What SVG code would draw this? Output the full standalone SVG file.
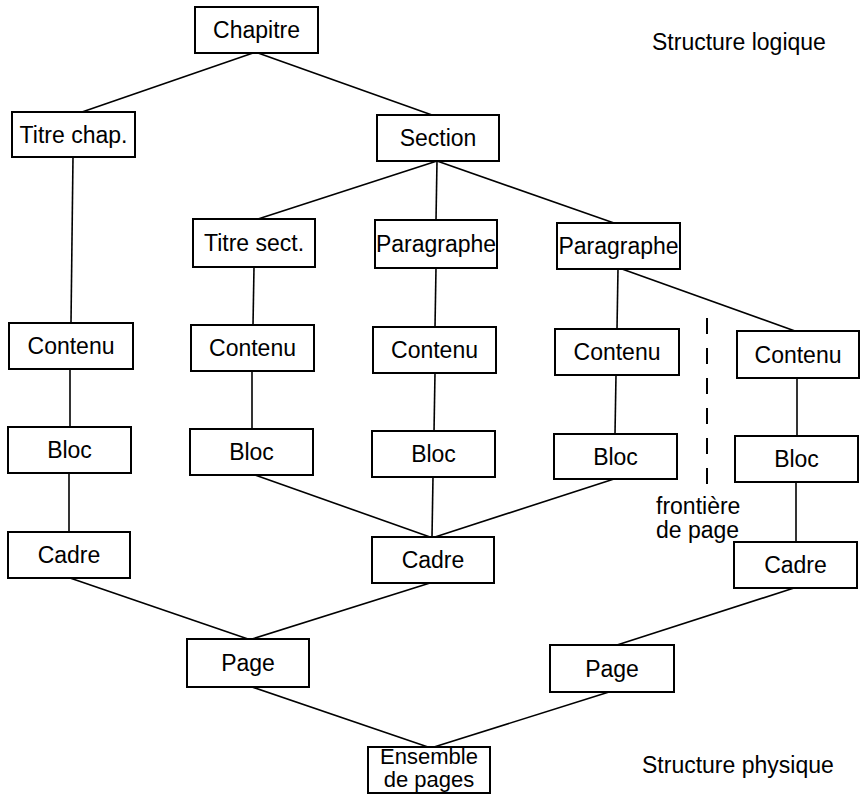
<svg xmlns="http://www.w3.org/2000/svg" width="864" height="798" viewBox="0 0 864 798">
<style>
.box{fill:#fff;stroke:#000;stroke-width:2}
.lbl{font-family:"Liberation Sans",Arial,Helvetica,sans-serif;font-size:23px;fill:#000;text-anchor:middle}
.lbs{font-family:"Liberation Sans",Arial,Helvetica,sans-serif;font-size:22px;fill:#000;text-anchor:middle}
.txt{font-family:"Liberation Sans",Arial,Helvetica,sans-serif;font-size:23px;fill:#000}
.ln{stroke:#000;stroke-width:1.6;fill:none}
.dash{stroke:#000;stroke-width:2;stroke-dasharray:16 14;fill:none}
</style>
<rect width="864" height="798" fill="#fff"/>
<g id="connectors">
<line class="ln" x1="253" y1="53" x2="82" y2="112"/>
<line class="ln" x1="258" y1="53" x2="432" y2="115"/>
<line class="ln" x1="73" y1="157" x2="71" y2="323"/>
<line class="ln" x1="437" y1="161" x2="258" y2="219"/>
<line class="ln" x1="437" y1="161" x2="436" y2="220"/>
<line class="ln" x1="437" y1="161" x2="614" y2="223"/>
<line class="ln" x1="254" y1="267" x2="253" y2="325"/>
<line class="ln" x1="436" y1="268" x2="435" y2="327"/>
<line class="ln" x1="618" y1="269" x2="617" y2="329"/>
<line class="ln" x1="622" y1="269" x2="795" y2="331"/>
<line class="ln" x1="70" y1="369" x2="70" y2="427"/>
<line class="ln" x1="252" y1="371" x2="252" y2="429"/>
<line class="ln" x1="435" y1="373" x2="434" y2="432"/>
<line class="ln" x1="616" y1="375" x2="615" y2="434"/>
<line class="ln" x1="797" y1="378" x2="797" y2="436"/>
<line class="ln" x1="69" y1="473" x2="69" y2="532"/>
<line class="ln" x1="255" y1="475" x2="430" y2="537"/>
<line class="ln" x1="433" y1="477" x2="432" y2="537"/>
<line class="ln" x1="614" y1="479" x2="435" y2="537"/>
<line class="ln" x1="796" y1="482" x2="796" y2="542"/>
<line class="ln" x1="70" y1="578" x2="248" y2="639"/>
<line class="ln" x1="430" y1="583" x2="252" y2="639"/>
<line class="ln" x1="794" y1="588" x2="617" y2="645"/>
<line class="ln" x1="252" y1="687" x2="428" y2="747"/>
<line class="ln" x1="609" y1="692" x2="434" y2="747"/>
<line class="dash" x1="707" y1="318" x2="707" y2="484"/>
</g>
<g id="n-chapitre"><rect class="box" x="195" y="7" width="123" height="46"/><text class="lbl" x="256.5" y="38">Chapitre</text></g>
<g id="n-titre-chap"><rect class="box" x="12" y="112" width="123" height="45"/><text class="lbl" x="73.5" y="142.5">Titre chap.</text></g>
<g id="n-section"><rect class="box" x="377" y="115" width="122" height="46"/><text class="lbl" x="438" y="146">Section</text></g>
<g id="n-titre-sect"><rect class="box" x="193" y="219" width="122" height="48"/><text class="lbl" x="254" y="251">Titre sect.</text></g>
<g id="n-paragraphe1"><rect class="box" x="375" y="220" width="122" height="48"/><text class="lbl" x="436" y="252">Paragraphe</text></g>
<g id="n-paragraphe2"><rect class="box" x="557" y="223" width="123" height="46"/><text class="lbl" x="618.5" y="254">Paragraphe</text></g>
<g id="n-contenu1"><rect class="box" x="9" y="323" width="124" height="46"/><text class="lbl" x="71" y="354">Contenu</text></g>
<g id="n-contenu2"><rect class="box" x="191" y="325" width="123" height="46"/><text class="lbl" x="252.5" y="356">Contenu</text></g>
<g id="n-contenu3"><rect class="box" x="373" y="327" width="123" height="46"/><text class="lbl" x="434.5" y="358">Contenu</text></g>
<g id="n-contenu4"><rect class="box" x="555" y="329" width="124" height="46"/><text class="lbl" x="617" y="360">Contenu</text></g>
<g id="n-contenu5"><rect class="box" x="737" y="331" width="122" height="47"/><text class="lbl" x="798" y="362.5">Contenu</text></g>
<g id="n-bloc1"><rect class="box" x="8" y="427" width="123" height="46"/><text class="lbl" x="69.5" y="458">Bloc</text></g>
<g id="n-bloc2"><rect class="box" x="190" y="429" width="123" height="46"/><text class="lbl" x="251.5" y="460">Bloc</text></g>
<g id="n-bloc3"><rect class="box" x="372" y="431" width="123" height="46"/><text class="lbl" x="433.5" y="462">Bloc</text></g>
<g id="n-bloc4"><rect class="box" x="554" y="434" width="123" height="45"/><text class="lbl" x="615.5" y="464.5">Bloc</text></g>
<g id="n-bloc5"><rect class="box" x="735" y="436" width="123" height="46"/><text class="lbl" x="796.5" y="467">Bloc</text></g>
<g id="n-cadre1"><rect class="box" x="8" y="532" width="122" height="46"/><text class="lbl" x="69" y="563">Cadre</text></g>
<g id="n-cadre2"><rect class="box" x="372" y="537" width="122" height="46"/><text class="lbl" x="433" y="568">Cadre</text></g>
<g id="n-cadre3"><rect class="box" x="734" y="542" width="123" height="46"/><text class="lbl" x="795.5" y="573">Cadre</text></g>
<g id="n-page1"><rect class="box" x="187" y="639" width="122" height="48"/><text class="lbl" x="248" y="671">Page</text></g>
<g id="n-page2"><rect class="box" x="550" y="645" width="124" height="47"/><text class="lbl" x="612" y="676.5">Page</text></g>
<g id="n-ensemble"><rect class="box" x="368" y="747" width="122" height="46"/><text class="lbs" x="429" y="764">Ensemble</text><text class="lbs" x="429" y="787">de pages</text></g>
<g id="labels">
<text class="txt" x="652" y="50">Structure logique</text>
<text class="txt" x="642" y="773">Structure physique</text>
<text class="txt" x="656" y="514">frontière</text>
<text class="txt" x="656" y="538">de page</text>
</g>
</svg>
